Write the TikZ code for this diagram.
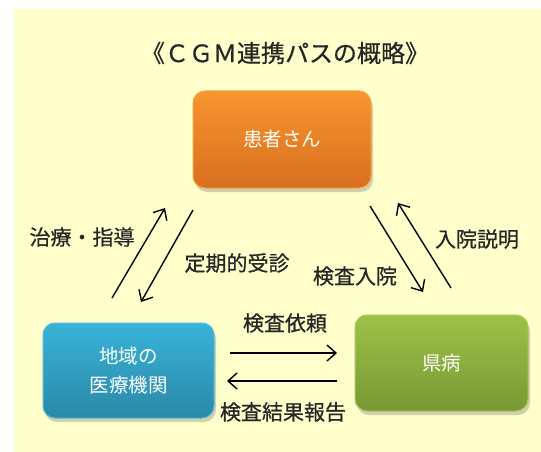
\documentclass[tikz,border=0pt]{standalone}
\usepackage{fontspec}
\newfontfamily\jp{Noto Sans CJK JP}
\newfontfamily\jpb{Noto Sans CJK JP}[FakeBold=0.6]
\usetikzlibrary{arrows.meta,shadows}
\definecolor{bgy}{HTML}{FFFFCC}
\definecolor{orT}{HTML}{F7952F}
\definecolor{orB}{HTML}{D86F1E}
\definecolor{orL}{HTML}{F9A14E}
\definecolor{blT}{HTML}{39B3D9}
\definecolor{blB}{HTML}{2A88A8}
\definecolor{blL}{HTML}{4DBBDD}
\definecolor{grT}{HTML}{9DC246}
\definecolor{grB}{HTML}{799834}
\definecolor{grL}{HTML}{A6C85A}
\tikzset{
  box/.style={rounded corners=12pt, draw=#1L, line width=1pt, top color=#1T, bottom color=#1B,
    text=white, font=\jp\fontsize{19.5}{29}\selectfont, align=center, inner sep=0pt,
    drop shadow={shadow xshift=2pt, shadow yshift=-4pt, opacity=0.3, fill=black!60}},
  lbl/.style={font=\jpb\fontsize{21}{24}\selectfont, text=black!85, inner sep=0pt},
  arr/.style={-{Straight Barb[length=9pt,width=16pt,line width=1.4pt]}, line width=1.4pt, black},
}
\begin{document}
\begin{tikzpicture}[x=1pt,y=-1pt]
\useasboundingbox (0,0) rectangle (541,452);
\fill[bgy] (14,9) rectangle (541,452);
\node[font=\jpb\fontsize{24}{28}\selectfont, text=black!85, inner sep=0pt] (title) at (285,53) {《ＣＧＭ連携パスの概略》};
\node[box=or, minimum width=178pt, minimum height=97pt] (pat) at (282,139.5) {患者さん};
\node[box=bl, minimum width=171pt, minimum height=95pt] (clinic) at (128.5,370.5) {地域の\\医療機関};
\node[box=gr, minimum width=173pt, minimum height=96pt] (hosp) at (441.5,363) {県病};
% arrow end points
\coordinate (a1s) at (112,298); \coordinate (a1e) at (165,208);
\coordinate (a2s) at (193,210); \coordinate (a2e) at (141,302);
\coordinate (a3s) at (370,206); \coordinate (a3e) at (423,292);
\coordinate (a4s) at (451,288); \coordinate (a4e) at (398,203);
\coordinate (a5s) at (230,353); \coordinate (a5e) at (337,353);
\coordinate (a6s) at (337,381); \coordinate (a6e) at (227,381);
\draw[arr] (a1s) -- (a1e);
\draw[arr] (a2s) -- (a2e);
\draw[arr] (a3s) -- (a3e);
\draw[arr] (a4s) -- (a4e);
\draw[arr] (a5s) -- (a5e);
\draw[arr] (a6s) -- (a6e);
\node[lbl] (l1) at (82,237) {治療・指導};
\node[lbl] (l2) at (237,263) {定期的受診};
\node[lbl] (l3) at (355,276) {検査入院};
\node[lbl] (l4) at (477,239) {入院説明};
\node[lbl] (l5) at (285,323) {検査依頼};
\node[lbl] (l6) at (283,412) {検査結果報告};
\end{tikzpicture}
\end{document}
